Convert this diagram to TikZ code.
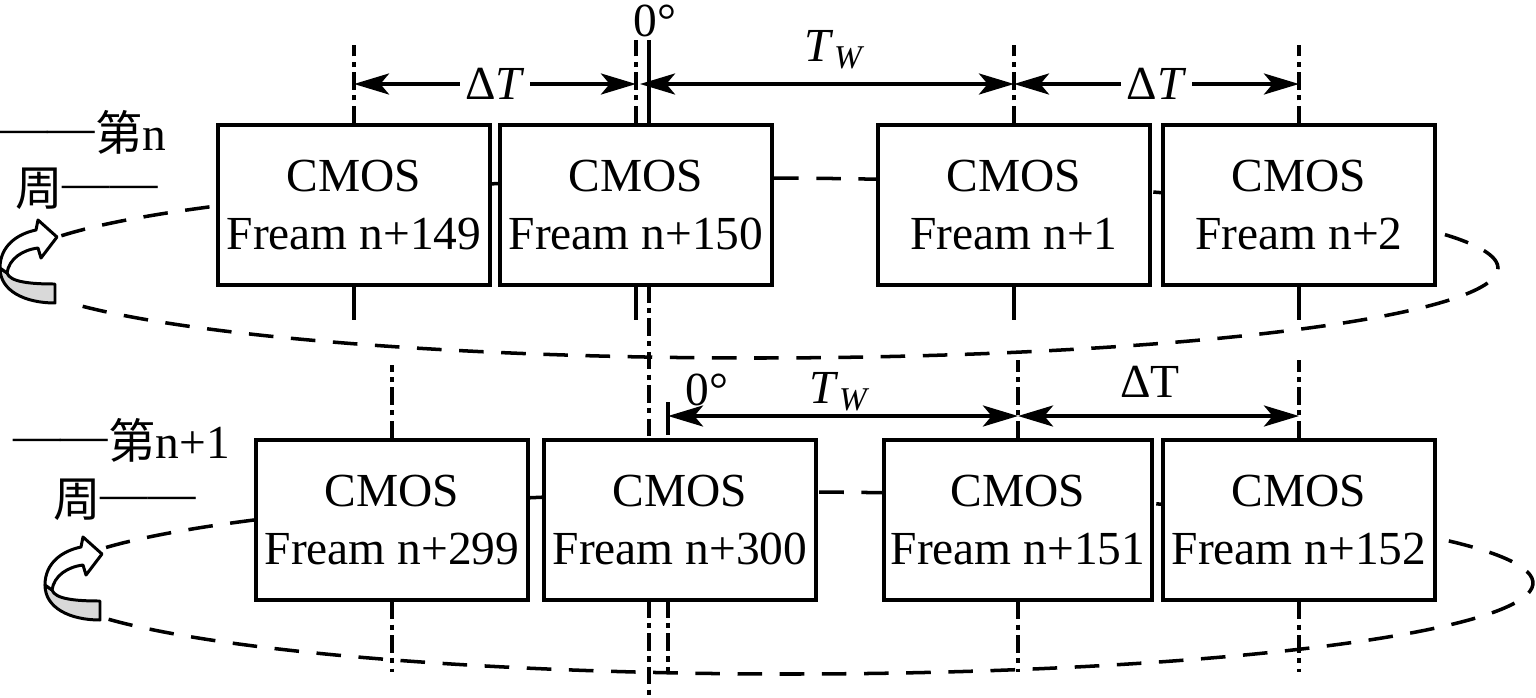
\documentclass[tikz,border=0pt]{standalone}
\usepackage{fontspec}
\setmainfont{Liberation Serif}
\newfontfamily\cjk{Noto Sans CJK SC}
\usetikzlibrary{arrows.meta}
\tikzset{
  frame/.style={draw, line width=2pt, fill=white, minimum width=5.44cm, minimum height=3.2cm,
    inner sep=0pt, align=center, font=\fontsize{27}{33}\selectfont},
  ring/.style={line width=2pt, dash pattern=on 14pt off 10pt},
  axisline/.style={line width=2pt, dash pattern=on 10pt off 3pt on 3pt off 3pt},
  tick/.style={line width=2pt},
  dim/.style={line width=1.8pt, {Stealth[length=20pt,width=12pt,inset=5pt]}-{Stealth[length=20pt,width=12pt,inset=5pt]}},
  lbl/.style={font=\fontsize{27}{33}\selectfont, inner sep=1pt},
  turn/.style={line width=1.7pt, line join=round},
}
\newcommand{\lines}{\raisebox{0.3ex}{——}}
\begin{document}
\begin{tikzpicture}[x=0.02cm, y=-0.02cm]
  \useasboundingbox (0,0) rectangle (1536,697);

  \draw[ring] plot[domain=201:517, samples=150, smooth] ({755+743*cos(\x)}, {268+90*sin(\x)});
  \draw[ring] plot[domain=203:517, samples=150, smooth] ({790+743*cos(\x)}, {583+91*sin(\x)});

  \foreach \dx/\dy in {0/0, 45/317} {
    \begin{scope}[shift={(\dx,\dy)}]
      \draw[turn, fill=gray!30] (0,268) .. controls (0,291) and (25,303) .. (55,303) -- (55,284)
        .. controls (30,284) and (10,282) .. (7,273) -- cycle;
      \draw[turn, fill=white] (0,268) .. controls (0,246) and (17,234) .. (36,230) -- (38,220)
        -- (57,237) -- (41,258) -- (38,248) .. controls (22,250) and (9,259) .. (7,273) -- cycle;
    \end{scope}
  }

  \node[frame] (f149) at (354,205) {CMOS\\Fream n+149};
  \node[frame] (f150) at (636,205) {CMOS\\Fream n+150};
  \node[frame] (f1) at (1014,205) {CMOS\\Fream n+1};
  \node[frame] (f2) at (1299,205) {CMOS\\Fream n+2};

  \node[frame] (f299) at (392,520) {CMOS\\Fream n+299};
  \node[frame] (f300) at (680,520) {CMOS\\Fream n+300};
  \node[frame, minimum width=5.36cm] (f151) at (1018,520) {CMOS\\Fream n+151};
  \node[frame] (f152) at (1299,520) {CMOS\\Fream n+152};

  \node[lbl, anchor=base west, inner sep=0pt] (wk1a) at (0,150) {\lines{\cjk 第}n};
  \node[lbl, anchor=base west, inner sep=0pt] (wk1b) at (15,205) {{\cjk 周}\lines};
  \node[lbl, anchor=base west, inner sep=0pt] (wk2a) at (13,458) {\lines{\cjk 第}n+1};
  \node[lbl, anchor=base west, inner sep=0pt] (wk2b) at (53,516) {{\cjk 周}\lines};

  % guide lines, first turn
  \draw[axisline] (f149.north) -- (354,45);
  \draw[tick] (f149.south) -- (354,320);
  \draw[axisline] (f150.north) -- (636,40);
  \draw[tick] (f150.south) -- (636,320);
  \draw[tick] (649,40) -- (649,125);
  \draw[axisline] (649,285) -- (649,440);
  \draw[axisline] (649,600) -- (649,697);
  \draw[axisline] (f1.north) -- (1014,45);
  \draw[tick] (f1.south) -- (1014,320);
  \draw[axisline] (f2.north) -- (1299,45);
  \draw[tick] (f2.south) -- (1299,320);

  % guide lines, second turn
  \draw[axisline] (f299.north) -- (392,365);
  \draw[axisline] (f299.south) -- (392,672);
  \draw[tick] (668,402) -- (668,435);
  \draw[axisline] (668,600) -- (668,672);
  \draw[axisline] (f151.north) -- (1018,360);
  \draw[axisline] (f151.south) -- (1018,672);
  \draw[axisline] (f152.north) -- (1299,360);
  \draw[axisline] (f152.south) -- (1299,672);

  \coordinate (a1) at (354,84);
  \coordinate (a2) at (636,84);
  \coordinate (a3) at (640,84);
  \coordinate (a4) at (1014,84);
  \coordinate (a5) at (1299,84);
  \coordinate (c1) at (668,416);
  \coordinate (c2) at (1018,416);
  \coordinate (c3) at (1299,416);

  \draw[dim] (a1) -- node[lbl, fill=white, inner xsep=3pt] (dt1) {Δ\textit{T}} (a2);
  \draw[dim] (a3) -- (a4);
  \draw[dim] (a4) -- node[lbl, fill=white, inner xsep=3pt] (dt2) {Δ\textit{T}} (a5);
  \draw[dim] (c1) -- (c2);
  \draw[dim] (c2) -- (c3);

  \node[lbl, inner sep=0pt] (z1) at (655,21) {0°};
  \node[lbl] (tw1) at (835,50) {\textit{T}\textsubscript{\textit{W}}};
  \node[lbl] (z2) at (707,390) {0°};
  \node[lbl] (tw2) at (840,392) {\textit{T}\textsubscript{\textit{W}}};
  \node[lbl] (dt3) at (1150,382) {ΔT};
\end{tikzpicture}
\end{document}
